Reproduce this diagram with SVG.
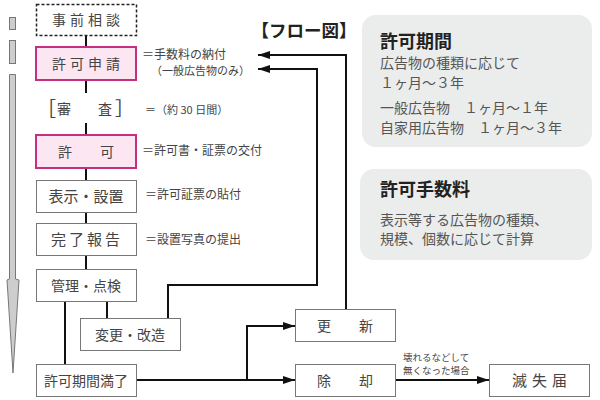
<svg xmlns="http://www.w3.org/2000/svg" width="600" height="400" viewBox="0 0 600 400">
<defs>
<style>
text{font-family:"Noto Sans CJK JP","Noto Sans",sans-serif;fill:#444}
.n{font-size:14px;text-anchor:middle}
.s{font-size:12px}
.p{font-size:14px;fill:#555}
.h{font-size:18px;font-weight:bold;fill:#222}
.box{fill:#fff;stroke:#777;stroke-width:1}
.pink{fill:#fce6f2;stroke:#c4307f;stroke-width:2}
.panel{fill:#ebedec}
.c{fill:none;stroke:#111;stroke-width:2}
.bar{fill:#cdcdcd;stroke:#777;stroke-width:1}
</style>
<marker id="ah" viewBox="0 0 12 8" refX="12" refY="4" markerWidth="12" markerHeight="8" markerUnits="userSpaceOnUse" orient="auto">
<path d="M0,0 L12,4 L0,8 Z" fill="#111"/>
</marker>
</defs>
<rect width="600" height="400" fill="#fff"/>

<g id="sidebar">
<rect class="bar" x="9.5" y="17.5" width="6" height="12"/>
<rect class="bar" x="9.5" y="40.5" width="6" height="23"/>
<path class="bar" d="M9.5,74.5 H15.5 V279 L19,280 L13,373 L7,280 L9.5,279 Z"/>
</g>

<g id="connectors">
<path class="c" d="M86,35 V47 M86,80 V93 M86,123 V135 M86,168 V180 M86,212 V223 M86,256 V269"/>
<path class="c" d="M65,302 V364 M107,302 V318"/>
<path class="c" d="M168,318 V285 H317 V69 H258" marker-end="url(#ah)"/>
<path class="c" d="M346,309 V55 H258" marker-end="url(#ah)"/>
<path class="c" d="M136,380 H295" marker-end="url(#ah)"/>
<path class="c" d="M247,381 V326 H295" marker-end="url(#ah)"/>
<path class="c" d="M396,380 H489" marker-end="url(#ah)"/>
</g>

<g id="n-jizen">
<rect x="36.5" y="4.5" width="100" height="31" fill="#fff" stroke="#222" stroke-width="1.5" stroke-dasharray="3,2"/>
<text class="n" x="88" y="25" letter-spacing="4">事前相談</text>
</g>
<g id="n-shinsei">
<rect class="pink" x="36" y="47" width="100" height="33"/>
<text class="n" x="88" y="69" letter-spacing="4">許可申請</text>
</g>
<g id="n-shinsa">
<text x="37" y="116" style="font-size:19px;fill:#444">［</text>
<text x="57" y="114" style="font-size:14px">審</text>
<text x="98" y="114" style="font-size:14px">査</text>
<text x="115" y="116" style="font-size:19px;fill:#444">］</text>
</g>
<g id="n-kyoka">
<rect class="pink" x="36" y="135" width="100" height="33"/>
<text class="n" x="86" y="157">許　　可</text>
</g>
<g id="n-hyoji">
<rect class="box" x="36.5" y="180.5" width="100" height="32"/>
<text class="n" x="86" y="202" style="font-size:15px">表示・設置</text>
</g>
<g id="n-kanryo">
<rect class="box" x="36.5" y="223.5" width="100" height="32"/>
<text class="n" x="87" y="245" letter-spacing="3" style="font-size:15px">完了報告</text>
</g>
<g id="n-kanri">
<rect class="box" x="36.5" y="269.5" width="100" height="32"/>
<text class="n" x="86" y="291">管理・点検</text>
</g>
<g id="n-henko">
<rect class="box" x="80.5" y="318.5" width="100" height="32"/>
<text class="n" x="130" y="340">変更・改造</text>
</g>
<g id="n-manryo">
<rect class="box" x="36.5" y="364.5" width="100" height="32"/>
<text class="n" x="86" y="386">許可期間満了</text>
</g>
<g id="n-koshin">
<rect class="box" x="295.5" y="309.5" width="100" height="32"/>
<text class="n" x="345" y="331">更　　新</text>
</g>
<g id="n-jokyaku">
<rect class="box" x="295.5" y="364.5" width="100" height="32"/>
<text class="n" x="345" y="386">除　　却</text>
</g>
<g id="n-messhitsu">
<rect class="box" x="489.5" y="364.5" width="100" height="32"/>
<text class="n" x="542" y="386" letter-spacing="5" style="font-size:15px">滅失届</text>
</g>

<g id="labels">
<text class="s" x="142" y="59">＝手数料の納付</text>
<text x="151" y="75" style="font-size:11px">（一般広告物のみ）</text>
<text x="145" y="114" style="font-size:11px">＝（約 30 日間）</text>
<text class="s" x="142" y="155">＝許可書・証票の交付</text>
<text class="s" x="145" y="199">＝許可証票の貼付</text>
<text class="s" x="145" y="244">＝設置写真の提出</text>
<text x="403" y="361" style="font-size:9.5px">壊れるなどして</text>
<text x="403" y="374" style="font-size:9.5px">無くなった場合</text>
<text x="304" y="37" style="font-size:17.5px;font-weight:bold;fill:#222;text-anchor:middle">【フロー図】</text>
</g>

<g id="panel-kikan">
<rect class="panel" x="362" y="15" width="230" height="132" rx="14"/>
<text class="h" x="380" y="48">許可期間</text>
<text class="p" x="380" y="68">広告物の種類に応じて</text>
<text class="p" x="380" y="88">１ヶ月～３年</text>
<text class="p" x="380" y="113">一般広告物　１ヶ月～１年</text>
<text class="p" x="380" y="133">自家用広告物　１ヶ月～３年</text>
</g>
<g id="panel-tesuryo">
<rect class="panel" x="360" y="169" width="232" height="91" rx="14"/>
<text class="h" x="380" y="196">許可手数料</text>
<text class="p" x="380" y="225">表示等する広告物の種類、</text>
<text class="p" x="380" y="244">規模、個数に応じて計算</text>
</g>
</svg>
